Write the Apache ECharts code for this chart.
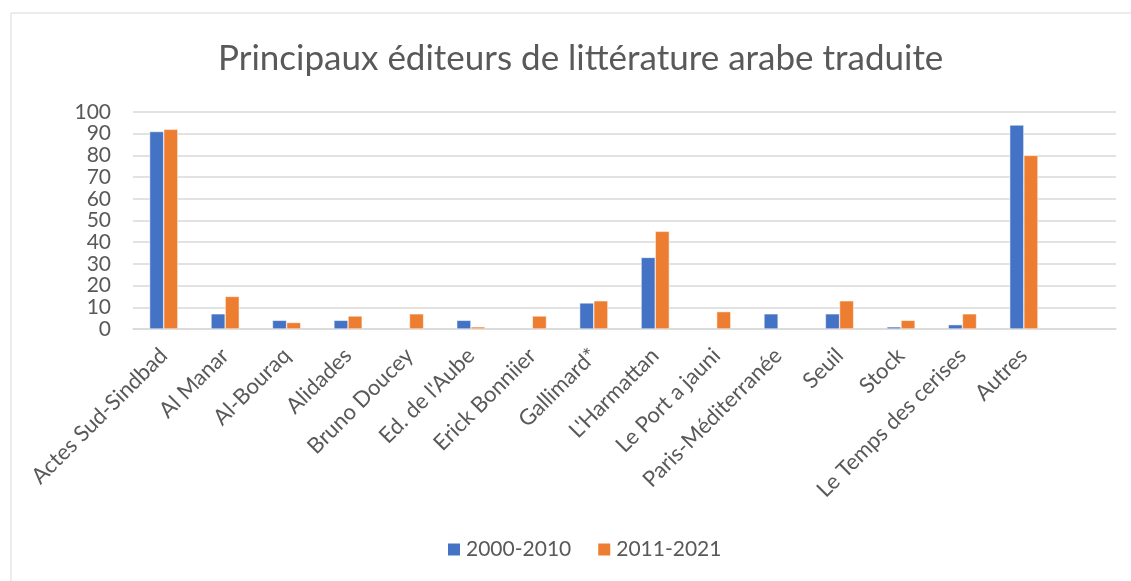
<!DOCTYPE html>
<html>
<head>
<meta charset="utf-8">
<script src="https://cdn.jsdelivr.net/npm/echarts@6/dist/echarts.min.js"></script>
<style>
  html, body { margin: 0; padding: 0; background: #fff; }
  #chart { width: 1131px; height: 581px; }
</style>
</head>
<body>
<div id="chart"></div>
<script>
const categories = [
  "Actes Sud-Sindbad", "Al Manar", "Al-Bouraq", "Alidades", "Bruno Doucey",
  "Ed. de l'Aube", "Erick Bonniier", "Gallimard*", "L'Harmattan", "Le Port a jauni",
  "Paris-Méditerranée", "Seuil", "Stock", "Le Temps des cerises", "Autres", ""
];
const period1 = [91, 7, 4, 4, null, 4, null, 12, 33, null, 7, 7, 1, 2, 94, null];
const period2 = [92, 15, 3, 6, 7, 1, 6, 13, 45, 8, null, 13, 4, 7, 80, null];
const seriesNames = ["2000-2010", "2011-2021"];
const yTicks = [0, 10, 20, 30, 40, 50, 60, 70, 80, 90, 100];

const chart = echarts.init(document.getElementById("chart"));
const font = "Lato, 'Open Sans', sans-serif";

chart.setOption({
  animation: false,
  textStyle: { fontFamily: font },
  graphic: [{
    type: "rect",
    shape: { x: 11, y: 13, width: 1200, height: 700 },
    style: { fill: "none", stroke: "#d9d9d9", lineWidth: 1 },
    silent: true
  }],
  title: {
    text: "Principaux éditeurs de littérature arabe traduite",
    left: 213,
    top: 36,
    textStyle: { fontFamily: font, fontSize: 35, fontWeight: "normal", color: "#595959" }
  },
  legend: {
    data: seriesNames,
    bottom: 16,
    left: 441,
    itemWidth: 14,
    itemHeight: 14,
    itemGap: 25,
    icon: "rect",
    textStyle: { fontFamily: font, fontSize: 21, color: "#595959" }
  },
  grid: { left: 133, right: 15, top: 112, bottom: 252 },
  xAxis: {
    type: "category",
    data: categories,
    axisLine: { lineStyle: { color: "#d9d9d9", width: 1.5 } },
    axisTick: { show: false },
    axisLabel: {
      interval: 0,
      rotate: 45,
      margin: 23,
      fontSize: 22,
      color: "#595959",
      fontFamily: font
    }
  },
  yAxis: {
    type: "value",
    min: yTicks[0],
    max: yTicks[yTicks.length - 1],
    interval: 10,
    axisLine: { show: false },
    axisTick: { show: false },
    splitLine: { lineStyle: { color: "#d9d9d9", width: 1.5 } },
    axisLabel: { fontSize: 21, color: "#595959", margin: 22, fontFamily: font }
  },
  series: [
    {
      name: seriesNames[0],
      type: "bar",
      data: period1,
      barGap: "0%",
      barCategoryGap: "54%",
      itemStyle: { color: "#4472c4", borderColor: "#fff", borderWidth: 0.5 }
    },
    {
      name: seriesNames[1],
      type: "bar",
      data: period2,
      itemStyle: { color: "#ed7d31", borderColor: "#fff", borderWidth: 0.5 }
    }
  ]
});
</script>
</body>
</html>
